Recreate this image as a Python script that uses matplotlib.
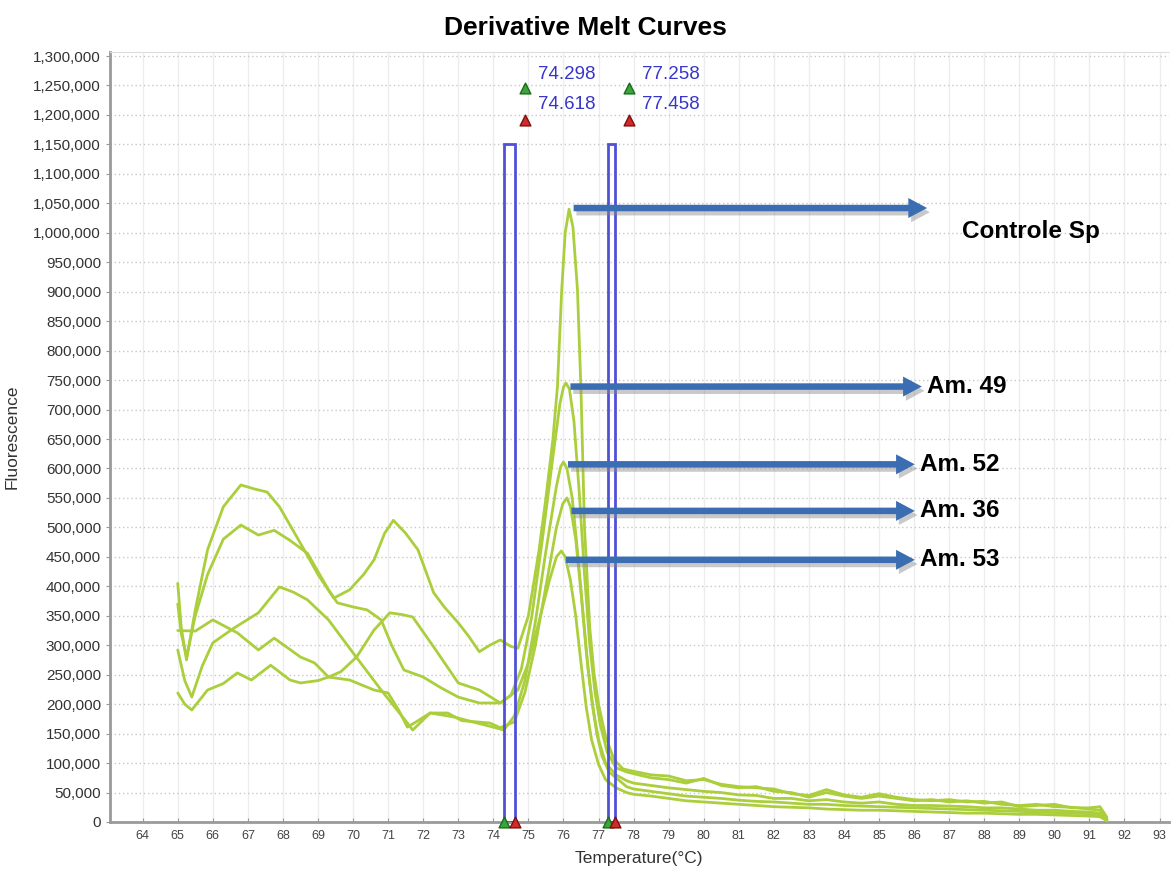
import matplotlib
matplotlib.use("Agg")
import matplotlib.pyplot as plt
import matplotlib.patheffects as pe
from matplotlib.patches import Rectangle
from matplotlib.ticker import FuncFormatter

# Melt curve data (temperature in C, fluorescence in thousands)
tail_temp = [78.0, 78.5, 79.0, 79.5, 80.0, 80.5, 81.0, 81.5, 82.0, 82.5, 83.0, 83.5,
             84.0, 84.5, 85.0, 85.5, 86.0, 86.5, 87.0, 87.5, 88.0, 88.5, 89.0, 89.5,
             90.0, 90.5, 91.0, 91.3, 91.5]

controle_temp = [65.0, 65.1, 65.25, 65.5, 65.85, 66.3, 66.8, 67.2, 67.55, 67.9, 68.5, 69.0,
                 69.45, 69.9, 70.3, 70.6, 70.9, 71.15, 71.5, 71.85, 72.3, 72.6, 73.0, 73.3,
                 73.6, 73.9, 74.2, 74.5, 74.7, 75.0, 75.3, 75.5, 75.7, 75.83, 75.95, 76.05,
                 76.16, 76.27, 76.4, 76.5, 76.6, 76.75, 76.87, 77.0, 77.2, 77.45, 77.7]
controle_val = [405, 330, 275, 360, 462, 535, 572, 565, 560, 535, 473, 420,
                380, 394, 420, 445, 490, 512, 490, 462, 389, 365, 338, 315,
                289, 300, 309, 298, 295, 350, 460, 550, 650, 740, 903, 1000,
                1040, 1010, 903, 733, 500, 330, 253, 200, 145, 105, 90]
controle_tail = [86, 80, 78, 70, 72, 64, 60, 58, 56, 48, 45, 55, 46, 42, 48, 42, 38, 36,
                 38, 34, 35, 30, 28, 30, 26, 25, 22, 20, 5]

am49_temp = [65.0, 65.1, 65.25, 65.5, 65.85, 66.3, 66.8, 67.3, 67.75, 68.2, 68.7, 69.0,
             69.3, 69.55, 70.0, 70.4, 70.8, 71.1, 71.45, 72.0, 72.5, 73.0, 73.6, 74.2,
             74.5, 74.8, 75.1, 75.4, 75.7, 75.9, 76.0, 76.07, 76.17, 76.3, 76.45, 76.6,
             76.75, 76.9, 77.05, 77.25, 77.5, 77.8]
am49_val = [370, 320, 280, 350, 420, 480, 504, 487, 495, 478, 456, 425,
            394, 372, 365, 360, 343, 300, 258, 246, 228, 212, 202, 202,
            215, 260, 350, 480, 620, 710, 738, 745, 735, 680, 560, 420,
            300, 220, 165, 118, 92, 85]
am49_tail = [82, 75, 72, 66, 74, 62, 58, 60, 52, 50, 42, 50, 44, 40, 44, 40, 36, 38,
             34, 36, 32, 34, 26, 28, 30, 24, 24, 26, 8]

am52_temp = [65.0, 65.2, 65.4, 65.7, 66.0, 66.6, 67.3, 67.9, 68.3, 68.7, 69.3, 70.0,
             70.8, 71.55, 71.7, 72.2, 72.9, 73.4, 74.0, 74.3, 74.6, 74.9, 75.2, 75.5,
             75.8, 75.92, 76.0, 76.1, 76.25, 76.4, 76.55, 76.7, 76.85, 77.0, 77.2, 77.5,
             77.8]
am52_val = [292, 240, 212, 265, 304, 329, 355, 399, 390, 377, 343, 287,
            224, 168, 156, 185, 178, 170, 161, 156, 180, 240, 340, 460,
            570, 603, 611, 600, 550, 460, 360, 260, 190, 140, 100, 80,
            70]
am52_tail = [66, 62, 58, 55, 52, 50, 46, 45, 40, 40, 36, 38, 34, 32, 34, 30, 28, 28,
             27, 26, 24, 24, 22, 20, 20, 18, 17, 15, 4]

am36_temp = [65.0, 65.5, 66.0, 66.7, 67.3, 67.75, 68.5, 68.9, 69.3, 69.9, 70.6, 71.0,
             71.3, 71.55, 71.8, 72.2, 72.7, 73.1, 73.5, 73.9, 74.2, 74.6, 74.9, 75.2,
             75.5, 75.8, 75.98, 76.1, 76.2, 76.35, 76.5, 76.65, 76.8, 76.95, 77.1, 77.3,
             77.6, 77.8]
am36_val = [325, 324, 343, 321, 292, 312, 280, 270, 246, 241, 224, 219,
            190, 161, 170, 185, 185, 172, 170, 168, 160, 170, 220, 300,
            400, 500, 540, 550, 535, 480, 390, 290, 210, 150, 112, 85,
            70, 60]
am36_tail = [56, 52, 48, 44, 42, 40, 37, 35, 34, 32, 30, 30, 28, 27, 26, 25, 24, 23,
             22, 21, 20, 19, 18, 17, 16, 15, 14, 12, 3]

am53_temp = [65.0, 65.2, 65.4, 65.85, 66.3, 66.7, 67.1, 67.65, 68.2, 68.5, 69.0, 69.3,
             69.65, 70.1, 70.6, 71.05, 71.4, 71.7, 72.3, 73.0, 73.6, 74.2, 74.7, 75.0,
             75.3, 75.6, 75.8, 75.94, 76.05, 76.2, 76.35, 76.5, 76.65, 76.8, 77.0, 77.2,
             77.5, 77.8]
am53_val = [219, 200, 190, 224, 235, 253, 241, 266, 241, 236, 240, 246,
            255, 280, 326, 355, 352, 348, 297, 236, 224, 202, 224, 270,
            340, 410, 450, 460, 450, 410, 350, 270, 195, 140, 98, 72,
            58, 50]
am53_tail = [47, 44, 40, 36, 34, 32, 30, 28, 26, 25, 24, 22, 21, 20, 20, 19, 18, 17,
             16, 15, 15, 14, 13, 13, 12, 11, 10, 9, 2]

sample_names = ["Controle Sp", "Am. 49", "Am. 52", "Am. 36", "Am. 53"]

# melt markers (green = start, red = end)
marker_green = [74.298, 77.258]
marker_red = [74.618, 77.458]

curves = [
    (controle_temp, controle_val, controle_tail),
    (am49_temp, am49_val, am49_tail),
    (am52_temp, am52_val, am52_tail),
    (am36_temp, am36_val, am36_tail),
    (am53_temp, am53_val, am53_tail),
]

# arrow layout: tip x and how far below each peak the arrow sits
arrow_end = [86.45, 86.3, 86.1, 86.1, 86.1]
arrow_drop = [-2000, 6000, 4000, 22000, 15000]

fig = plt.figure(figsize=(11.71, 8.74), dpi=100)
ax = fig.add_axes([0.094, 0.0595, 0.904, 0.881])

# curves
for temps, vals, tail in curves:
    x = temps + tail_temp
    y = [v * 1000 for v in vals + tail]
    ax.plot(x, y, color="#abcf3c", lw=2.0, solid_joinstyle="round",
            solid_capstyle="round", zorder=3)

# marker boxes
for g, r in zip(marker_green, marker_red):
    ax.add_patch(Rectangle((g, 0), r - g, 1150000, fill=False,
                           edgecolor="#5050d8", lw=2.0, zorder=4))
    ax.scatter([g], [0], marker="^", s=60, color="#3aa53a", edgecolors="#1d6b1d",
               zorder=6, clip_on=False)
    ax.scatter([r], [0], marker="^", s=60, color="#d02a2a", edgecolors="#7a1010",
               zorder=6, clip_on=False)
    ax.scatter([g + 0.6], [1245000], marker="^", s=60, color="#3aa53a",
               edgecolors="#1d6b1d", zorder=6)
    ax.scatter([g + 0.6], [1191000], marker="^", s=60, color="#d02a2a",
               edgecolors="#7a1010", zorder=6)
    ax.text(g + 0.97, 1268000, f"{g:.3f}", color="#3636c8", fontsize=13.5,
            family="Liberation Sans", va="center", ha="left")
    ax.text(g + 0.97, 1217000, f"{r:.3f}", color="#3636c8", fontsize=13.5,
            family="Liberation Sans", va="center", ha="left")

# arrows + sample labels
shadow = [pe.withSimplePatchShadow(offset=(2, -3), shadow_rgbFace="#888888", alpha=0.45)]
for i, (temps, vals, tail) in enumerate(curves):
    peak = max(vals) * 1000
    peak_t = temps[vals.index(max(vals))]
    y = peak - arrow_drop[i]
    ax.annotate("", xy=(arrow_end[i], y), xytext=(peak_t + 0.05, y),
                arrowprops=dict(arrowstyle="simple,head_length=0.75,head_width=0.8,tail_width=0.26",
                                mutation_scale=18, color="#3b6db3", lw=0,
                                path_effects=shadow),
                zorder=7)
    if i == 0:
        ax.text(87.36, y - 40000, sample_names[i], fontsize=17.5, weight="bold",
                family="Liberation Sans", va="center", ha="left", zorder=8)
    else:
        ax.text(arrow_end[i] + 0.08, y, sample_names[i], fontsize=17.5, weight="bold",
                family="Liberation Sans", va="center", ha="left", zorder=8)

# axes
ax.set_xlim(63.07, 93.26)
ax.set_ylim(0, 1306800)
ax.set_xticks(range(64, 94))
ax.set_yticks(range(0, 1300001, 50000))
ax.yaxis.set_major_formatter(FuncFormatter(lambda v, p: f"{int(v):,}"))
ax.tick_params(axis="y", labelsize=11, length=3, color="#999999", labelcolor="#333333")
ax.tick_params(axis="x", labelsize=9, length=3, color="#999999", labelcolor="#444444",
               direction="in", pad=6)
for lab in ax.get_xticklabels() + ax.get_yticklabels():
    lab.set_family("Liberation Sans")

ax.grid(axis="y", linestyle=(0, (1, 2)), color="#c8c8c8", lw=1.0, zorder=0)
ax.grid(axis="x", linestyle="-", color="#ededed", lw=1.0, zorder=0)
ax.set_axisbelow(True)

ax.spines["left"].set_color("#9a9a9a")
ax.spines["left"].set_linewidth(2)
ax.spines["bottom"].set_color("#9a9a9a")
ax.spines["bottom"].set_linewidth(2)
ax.spines["top"].set_color("#dddddd")
ax.spines["right"].set_visible(False)

ax.set_xlabel("Temperature(°C)", fontsize=12.5, family="Liberation Sans", color="#333333",
              labelpad=6)
ax.set_ylabel("Fluorescence", fontsize=12.5, family="Liberation Sans", color="#333333",
              labelpad=10)

fig.text(0.5, 1 - 28 / 874, "Derivative Melt Curves", fontsize=19, weight="bold",
         family="Liberation Sans", ha="center", va="center")

fig.savefig("out.png", dpi=100)
